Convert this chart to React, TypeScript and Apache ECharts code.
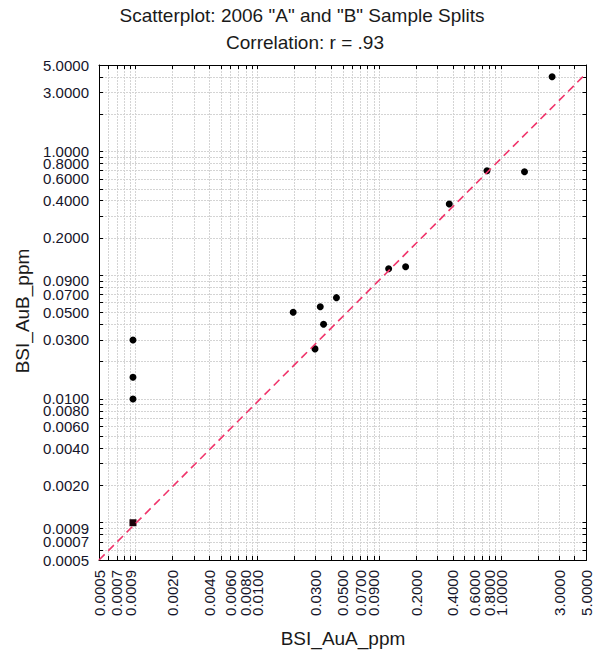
import React, { useEffect, useRef } from "react";
import * as echarts from "echarts";

// Data (ppm)
const pointsAuA = [0.00095, 0.00095, 0.00095, 0.0196, 0.0327, 0.0444, 0.0348, 0.0296, 0.119, 0.164, 2.61, 0.763, 1.55, 0.374];
const pointsAuB = [0.03, 0.015, 0.01, 0.0502, 0.0557, 0.0659, 0.0402, 0.0254, 0.113, 0.117, 4.02, 0.70, 0.687, 0.377];
const squareAuA = [0.00095];
const squareAuB = [0.001];
const fitLineAuA = [0.0005, 5];
const fitLineAuB = [0.0005, 4.3];

const tickValues = [
  0.0005, 0.0006, 0.0007, 0.0008, 0.0009, 0.001, 0.002, 0.003, 0.004, 0.005, 0.006, 0.007, 0.008, 0.009,
  0.01, 0.02, 0.03, 0.04, 0.05, 0.06, 0.07, 0.08, 0.09, 0.1, 0.2, 0.3, 0.4, 0.5, 0.6, 0.7, 0.8, 0.9,
  1, 2, 3, 4, 5,
];
const labelValues = [
  0.0005, 0.0007, 0.0009, 0.002, 0.004, 0.006, 0.008, 0.01, 0.03, 0.05, 0.07, 0.09, 0.2, 0.4, 0.6, 0.8, 1, 3, 5,
];
const axisMin = 0.0005;
const axisMax = 5;

const titleLine1 = 'Scatterplot: 2006 "A" and "B" Sample Splits';
const titleLine2 = "Correlation: r = .93";
const xTitle = "BSI_AuA_ppm";
const yTitle = "BSI_AuB_ppm";

const L = Math.log10;
const FONT = "'Liberation Sans', Arial, sans-serif";

function makeAxis(position: string, showLabels: boolean, rotate: number) {
  return {
    type: "value",
    position,
    min: L(axisMin),
    max: L(axisMax),
    axisLine: { show: true, onZero: false, lineStyle: { color: "#000", width: 1 } },
    axisTick: {
      show: true,
      inside: true,
      length: 4,
      customValues: tickValues.map(L),
      lineStyle: { color: "#000", width: 1 },
    },
    axisLabel: {
      show: showLabels,
      customValues: labelValues.map(L),
      formatter: (v: number) => Math.pow(10, v).toFixed(4),
      rotate,
      margin: 10,
      fontSize: 15,
      color: "#15152a",
      fontFamily: FONT,
    },
    splitLine: showLabels
      ? { show: true, lineStyle: { color: "#d4d4d4", width: 1, type: [2, 1] } }
      : { show: false },
  };
}

export default function App() {
  const ref = useRef<HTMLDivElement>(null);
  useEffect(() => {
    if (!ref.current) return;
    const chart = echarts.init(ref.current, null, { renderer: "svg" });
    chart.setOption({
      animation: false,
      backgroundColor: "#fff",
      grid: { left: 99, right: 5, top: 65, bottom: 93, containLabel: false },
      xAxis: [makeAxis("bottom", true, 90), makeAxis("top", false, 0)],
      yAxis: [makeAxis("left", true, 0), makeAxis("right", false, 0)],
      graphic: [
        {
          type: "text",
          x: 302,
          y: 6,
          style: { text: titleLine1, fontSize: 19, fontFamily: FONT, fill: "#1a1a1a", textAlign: "center", textVerticalAlign: "top" },
        },
        {
          type: "text",
          x: 305,
          y: 33,
          style: { text: titleLine2, fontSize: 19, fontFamily: FONT, fill: "#1a1a1a", textAlign: "center", textVerticalAlign: "top" },
        },
        {
          type: "text",
          x: 343,
          y: 629,
          style: { text: xTitle, fontSize: 19, fontFamily: FONT, fill: "#1a1a1a", textAlign: "center", textVerticalAlign: "top" },
        },
        {
          type: "text",
          x: 22,
          y: 311,
          rotation: Math.PI / 2,
          style: { text: yTitle, fontSize: 19, fontFamily: FONT, fill: "#1a1a1a", textAlign: "center", textVerticalAlign: "middle" },
        },
      ],
      series: [
        {
          type: "scatter",
          xAxisIndex: 0,
          yAxisIndex: 0,
          symbol: "circle",
          symbolSize: 7,
          itemStyle: { color: "#000", opacity: 1 },
          data: pointsAuA.map((x, i) => [L(x), L(pointsAuB[i])]),
          z: 3,
        },
        {
          type: "scatter",
          xAxisIndex: 0,
          yAxisIndex: 0,
          symbol: "rect",
          symbolSize: 7,
          itemStyle: { color: "#1a0008", opacity: 1 },
          data: squareAuA.map((x, i) => [L(x), L(squareAuB[i])]),
          z: 3,
        },
        {
          type: "line",
          xAxisIndex: 0,
          yAxisIndex: 0,
          showSymbol: false,
          symbol: "none",
          clip: true,
          lineStyle: { color: "#f0346a", width: 1.6, type: [8, 5] },
          data: fitLineAuA.map((x, i) => [L(x), L(fitLineAuB[i])]),
          z: 4,
        },
      ],
    });
    return () => chart.dispose();
  }, []);
  return <div ref={ref} style={{ position: "fixed", left: 0, top: 0, width: 594, height: 653 }} />;
}
